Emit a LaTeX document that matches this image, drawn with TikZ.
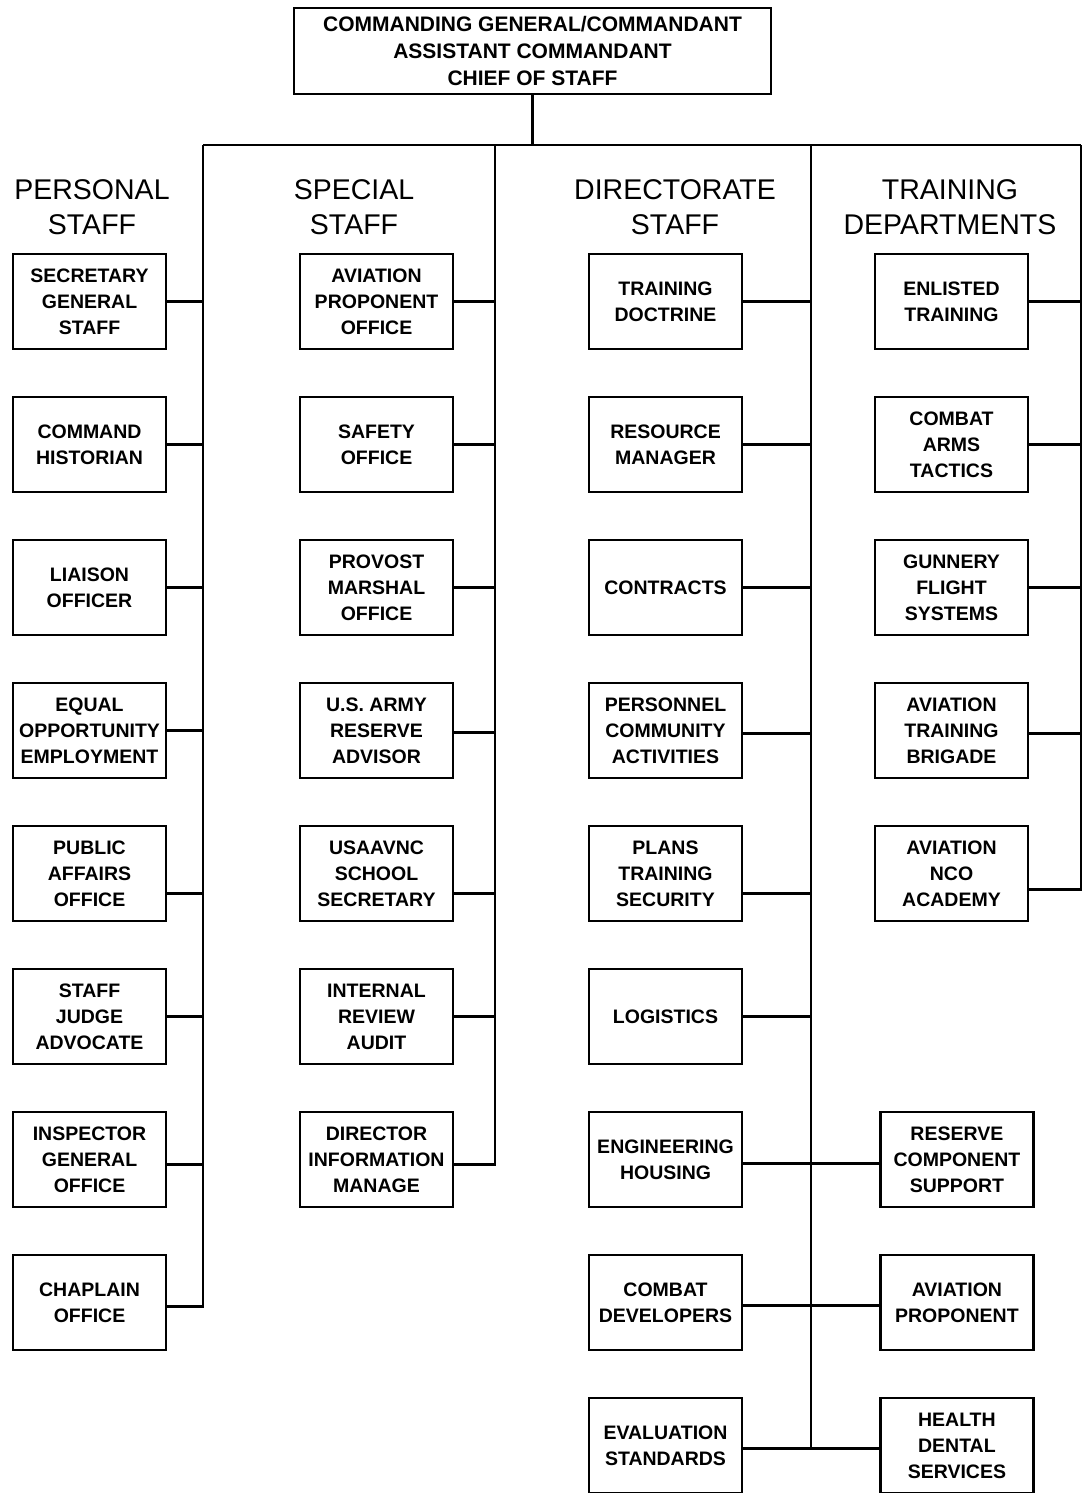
\documentclass[tikz,border=0pt]{standalone}
\usepackage{fontspec}
\setmainfont{Liberation Sans}
\usetikzlibrary{positioning}

\begin{document}
\begin{tikzpicture}[
  x=1pt, y=1pt,
  node distance=45.6pt,
  line width=2.2pt,
  unit/.style={draw, line width=2.4pt, align=center, inner sep=0pt, minimum width=153pt, minimum height=95pt, font=\fontsize{19.5}{26}\selectfont\bfseries},
  head/.style={align=center, inner sep=0pt, font=\fontsize{28.5}{35}\selectfont},
]
\useasboundingbox (0,0) rectangle (1086,-1493);
\node[unit, minimum width=477pt, minimum height=86pt, font=\fontsize{21}{27}\selectfont\bfseries] (cg) at (532.5,-51) {COMMANDING GENERAL/COMMANDANT\\ASSISTANT COMMANDANT\\CHIEF OF STAFF};
% column heads
\node[head] (hpers) at (92,-207)  {PERSONAL\\STAFF};
\node[head] (hspec) at (354,-207) {SPECIAL\\STAFF};
\node[head] (hdir)  at (675,-207) {DIRECTORATE\\STAFF};
\node[head] (htrn)  at (950,-207) {TRAINING\\DEPARTMENTS};
% bus tops
\coordinate (pbus) at (203,-145);
\coordinate (sbus) at (495,-145);
\coordinate (dbus) at (811,-145);
\coordinate (tbus) at (1081,-145);
\draw (cg.south) -- (cg.south |- pbus);
\draw (pbus) -- (tbus);
% personal staff
\node[unit] (sgs) at (89.5,-301.5) {SECRETARY\\GENERAL\\STAFF};
\node[unit,below=of sgs]  (hist) {COMMAND\\HISTORIAN};
\node[unit,below=of hist] (lno)  {LIAISON\\OFFICER};
\node[unit,below=of lno]  (eeo)  {EQUAL\\OPPORTUNITY\\EMPLOYMENT};
\node[unit,below=of eeo]  (pao)  {PUBLIC\\AFFAIRS\\OFFICE};
\node[unit,below=of pao]  (sja)  {STAFF\\JUDGE\\ADVOCATE};
\node[unit,below=of sja]  (ig)   {INSPECTOR\\GENERAL\\OFFICE};
\node[unit,below=of ig]   (chap) {CHAPLAIN\\OFFICE};
\foreach \b/\s in {sgs/0,hist/0,lno/0,eeo/0,pao/-20,sja/0,ig/-5} \draw ([yshift=\s]\b.east) -- ([yshift=\s]\b.east -| pbus);
\draw (pbus) |- ([yshift=-4]chap.east);
% special staff
\node[unit] (apo) at (376.5,-301.5) {AVIATION\\PROPONENT\\OFFICE};
\node[unit,below=of apo]  (safe) {SAFETY\\OFFICE};
\node[unit,below=of safe] (pmo)  {PROVOST\\MARSHAL\\OFFICE};
\node[unit,below=of pmo]  (usar) {U.S. ARMY\\RESERVE\\ADVISOR};
\node[unit,below=of usar] (sec)  {USAAVNC\\SCHOOL\\SECRETARY};
\node[unit,below=of sec]  (ira)  {INTERNAL\\REVIEW\\AUDIT};
\node[unit,below=of ira]  (dim)  {DIRECTOR\\INFORMATION\\MANAGE};
\foreach \b/\s in {apo/0,safe/0,pmo/0,usar/-2,sec/-20,ira/0} \draw ([yshift=\s]\b.east) -- ([yshift=\s]\b.east -| sbus);
\draw (sbus) |- ([yshift=-5]dim.east);
% directorate staff
\node[unit] (dtd) at (665.5,-301.5) {TRAINING\\DOCTRINE};
\node[unit,below=of dtd] (rm)  {RESOURCE\\MANAGER};
\node[unit,below=of rm]  (ctr) {CONTRACTS};
\node[unit,below=of ctr] (pca) {PERSONNEL\\COMMUNITY\\ACTIVITIES};
\node[unit,below=of pca] (pts) {PLANS\\TRAINING\\SECURITY};
\node[unit,below=of pts] (log) {LOGISTICS};
\node[unit,below=of log] (eh)  {ENGINEERING\\HOUSING};
\node[unit,below=of eh]  (cd)  {COMBAT\\DEVELOPERS};
\node[unit,below=of cd]  (es)  {EVALUATION\\STANDARDS};
\foreach \b/\s in {dtd/0,rm/0,ctr/0,pca/-3,pts/-20,log/0} \draw ([yshift=\s]\b.east) -- ([yshift=\s]\b.east -| dbus);
\draw (dbus) -- ([yshift=-3]es.east -| dbus);
% training departments
\node[unit] (etr) at (951.5,-301.5) {ENLISTED\\TRAINING};
\node[unit,below=of etr] (cat) {COMBAT\\ARMS\\TACTICS};
\node[unit,below=of cat] (gfs) {GUNNERY\\FLIGHT\\SYSTEMS};
\node[unit,below=of gfs] (atb) {AVIATION\\TRAINING\\BRIGADE};
\node[unit,below=of atb] (nco) {AVIATION\\NCO\\ACADEMY};
\foreach \b/\s in {etr/0,cat/0,gfs/0,atb/-3} \draw ([yshift=\s]\b.east) -- ([yshift=\s]\b.east -| tbus);
\draw (tbus) |- ([yshift=-16]nco.east);
% units off the directorate bus
\node[unit,right=136pt of eh] (rcs) {RESERVE\\COMPONENT\\SUPPORT};
\node[unit,right=136pt of cd] (apn) {AVIATION\\PROPONENT};
\node[unit,right=136pt of es] (hds) {HEALTH\\DENTAL\\SERVICES};
\foreach \a/\b/\s in {eh/rcs/-4,cd/apn/-3,es/hds/-3} \draw ([yshift=\s]\a.east) -- ([yshift=\s]\a.east -| \b.west);
\end{tikzpicture}
\end{document}
